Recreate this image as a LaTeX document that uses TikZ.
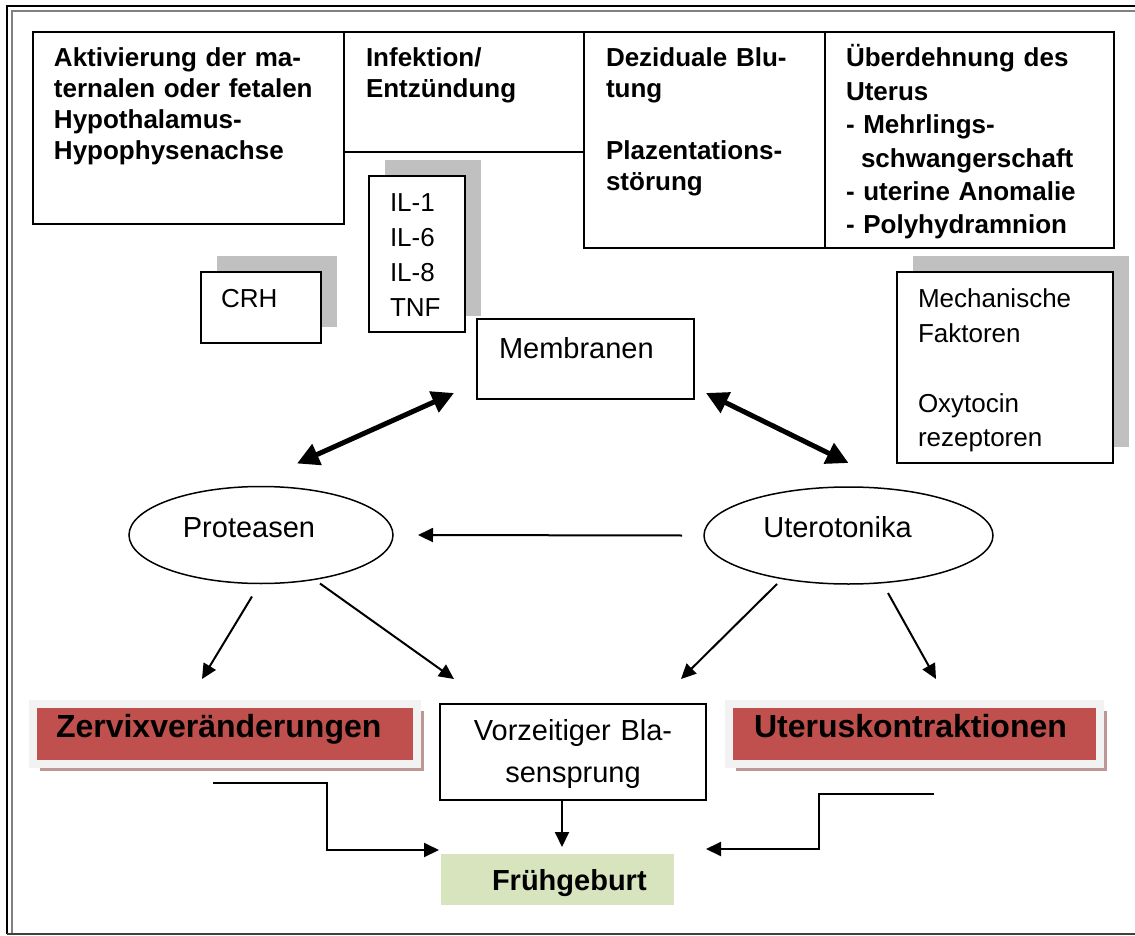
\documentclass[tikz,border=0pt]{standalone}
\usepackage{fontspec}
\setmainfont{Liberation Sans}
\usetikzlibrary{arrows.meta,shapes.geometric,shadows,calc}

\definecolor{boxred}{RGB}{192,80,77}
\definecolor{bandgray}{RGB}{242,242,242}
\definecolor{redshadow}{RGB}{190,150,150}
\definecolor{shadegray}{RGB}{192,192,192}
\definecolor{lightgreen}{RGB}{215,228,189}

\begin{document}
\begin{tikzpicture}[x=0.5pt,y=-0.5pt,
  box/.style={draw,line width=0.9pt,fill=white,anchor=north west,align=left,inner ysep=0pt,outer sep=0pt},
  cause/.style={box,text height=17.5pt,font=\bfseries\fontsize{13}{15.5}\selectfont},
  tag/.style={box,font=\fontsize{13}{17.5}\selectfont,
    general shadow={fill=shadegray,shadow xshift=8pt,shadow yshift=8pt}},
  oval/.style={ellipse,draw,line width=0.75pt,minimum height=48.5pt,inner sep=3pt,outer sep=0pt,
    text height=11pt,text depth=9pt,font=\fontsize{14.5}{17}\selectfont},
  effect/.style={anchor=north west,align=left,fill=boxred,draw=bandgray,line width=4pt,
    inner ysep=0pt,outer sep=0pt,text height=16.5pt,text depth=13.5pt,
    font=\bfseries\fontsize{16}{19}\selectfont,
    general shadow={fill=redshadow,shadow xshift=3.5pt,shadow yshift=-3.5pt}},
  dbl/.style={{Triangle[length=11pt,width=11pt]}-{Triangle[length=11pt,width=11pt]},line width=2.5pt},
  arr/.style={-{Triangle[length=7.5pt,width=7pt]},line width=1pt}]
\useasboundingbox (0,0) rectangle (1135,936);

% frame
\draw[line width=0.8pt] (7,934) -- (7,6) -- (1135,6);
\draw[gray,line width=1.2pt] (12,934) -- (12,11) -- (1135,11);
\draw[darkgray,line width=0.8pt] (7,934) -- (1135,934);

% causes
\node[cause,inner xsep=10.5pt,text width=134.5pt,text depth=78.5pt] (hpa) at (33,32)
  {Aktivierung der ma-\\ternalen oder fetalen\\Hypothalamus-\\Hypophysenachse};
\node[cause,inner xsep=11pt,text width=98pt,text depth=42.5pt] (inf) at (344,32)
  {Infektion/\\Entzündung};
\node[cause,inner xsep=11pt,text width=98.5pt,text depth=90.5pt] (dez) at (584,32)
  {Deziduale Blu-\\tung\\[15.5pt]Plazentations-\\störung};
\node[cause,inner xsep=10.5pt,text width=123.5pt,text depth=90.5pt,
  font=\bfseries\fontsize{13}{16.7}\selectfont] (ueb) at (825,32)
  {Überdehnung des\\Uterus\\- Mehrlings-\\\hspace*{7.5pt}schwangerschaft\\- uterine Anomalie\\- Polyhydramnion};

% mediators
\node[tag,inner xsep=10pt,text width=40pt,text height=17.5pt,text depth=18pt] (crh) at (201,272) {CRH};
\node[tag,inner xsep=10.5pt,text width=27pt,text height=18pt,text depth=60pt] (il) at (369,176)
  {IL-1\\IL-6\\IL-8\\TNF};
\node[tag,inner xsep=10.5pt,text width=87pt,text height=17.5pt,text depth=78pt] (mech) at (897,272)
  {Mechanische\\Faktoren\\[17.5pt]Oxytocin\\rezeptoren};
\node[box,inner xsep=11pt,text width=86.5pt,text height=19.5pt,text depth=20.5pt,
  font=\fontsize{14.5}{17}\selectfont] (memb) at (477,319) {Membranen};

\node[oval,minimum width=132pt] (prot) at (261,535) {Proteasen\hspace*{12pt}};
\node[oval,minimum width=144.5pt] (uter) at (848.5,535.5) {Uterotonika\hspace*{11pt}};

% effects
\node[effect,inner xsep=11.5pt,text width=169pt] (zerv) at (33,704) {Zervixveränderungen};
\node[effect,inner xsep=12.5pt,text width=160.5pt] (uterk) at (729,704) {Uteruskontraktionen};
\node[box,align=center,inner xsep=0pt,text width=133pt,text height=18pt,text depth=30pt,
  font=\fontsize{14.5}{21}\selectfont] (vorz) at (440,704) {Vorzeitiger Bla-\\sensprung};
\node[anchor=north west,fill=lightgreen,inner sep=0pt,outer sep=0pt,align=left,text width=116.5pt,
  text height=18pt,text depth=7.5pt,font=\bfseries\fontsize{14.5}{17}\selectfont] (frueh) at (441,854)
  {\hspace*{25.5pt}Frühgeburt};

% arrows
\draw[dbl] ($(prot.north)+(36,-23)$) -- ($(memb.south west)+(-23,-6)$);
\draw[dbl] ($(memb.south east)+(12,-6)$) -- ($(uter.north)+(0,-24)$);
\draw[arr] ($(uter.west)+(-22,0)$) -- ($(prot.east)+(25,0)$);
\draw[arr] ($(prot.south)+(-9,13)$) -- ($(zerv.north)+(-23,-25)$);
\draw[arr] ($(prot.south)+(59,0)$) -- ($(vorz.north west)+(14,-25)$);
\draw[arr] ($(uter.south)+(-71.5,0)$) -- ($(vorz.north east)+(-25,-25)$);
\draw[arr] ($(uter.south)+(39.5,9)$) -- ($(uterk.north)+(21.5,-25)$);
\draw[arr] ($(vorz.south)+(-11,0)$) -- ($(frueh.north)+(4.5,-7)$);
\draw[arr] ($(zerv.south)+(-12,19)$) -- ++(114,0) |- ($(frueh.north west)+(-2,-4)$);
\draw[arr] ($(uterk.south)+(19.5,30)$) -- ++(-115,0) |- ($(frueh.north east)+(32,-5)$);
\end{tikzpicture}
\end{document}
